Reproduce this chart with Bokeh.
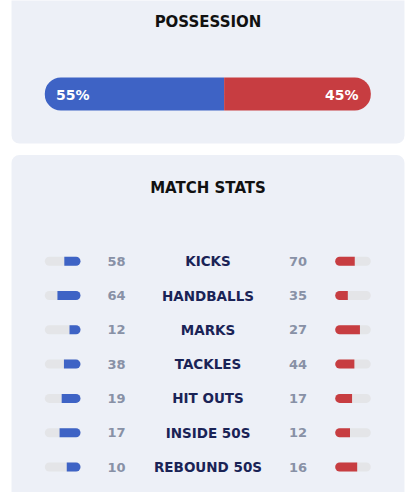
from bokeh.plotting import figure
from bokeh.models import ColumnDataSource, Range1d
from bokeh.core.properties import value
from bokeh.embed import file_html
from bokeh.resources import INLINE

# ---- data ----
possession_home = 55
possession_away = 45
categories = ["KICKS", "HANDBALLS", "MARKS", "TACKLES", "HIT OUTS", "INSIDE 50S", "REBOUND 50S"]
home_values = [58, 64, 12, 38, 19, 17, 10]
away_values = [70, 35, 27, 44, 17, 12, 16]

# ---- style ----
BLUE = "#3e63c5"
RED = "#c73d41"
TRACK = "#e4e5e8"
PANEL = "#edf0f7"
NAVY = "#1a2356"
GREY = "#8891a6"
FONT = value("DejaVu Sans")

W, H = 406, 492
p = figure(width=W, height=H, output_backend="svg", toolbar_location=None,
           x_range=Range1d(0, W), y_range=Range1d(H, 0),
           min_border=0, outline_line_color=None,
           background_fill_color="white", border_fill_color="white")
p.axis.visible = False
p.grid.visible = False

# panels
p.quad(left=[11], right=[404], top=[-20], bottom=[143], fill_color=PANEL,
       line_color=None, border_radius=8)
p.quad(left=[11], right=[404], top=[154.5], bottom=[560], fill_color=PANEL,
       line_color=None, border_radius=8)

# titles
p.text(x=[207.5], y=[21.5], text=["POSSESSION"], text_font=FONT, text_font_style="bold",
       text_font_size="15px", text_color="#111111", text_align="center", text_baseline="middle")
p.text(x=[207.5], y=[187], text=["MATCH STATS"], text_font=FONT, text_font_style="bold",
       text_font_size="15px", text_color="#111111", text_align="center", text_baseline="middle")

# possession bar
bar_l, bar_r = 44.3, 370.3
split = bar_l + (bar_r - bar_l) * possession_home / (possession_home + possession_away)
p.hbar(y=[93.5], left=[bar_l], right=[split], height=33, fill_color=BLUE, line_color=None,
       border_radius=(16, 0, 0, 16))
p.hbar(y=[93.5], left=[split], right=[bar_r], height=33, fill_color=RED, line_color=None,
       border_radius=(0, 16, 16, 0))
p.text(x=[55.5], y=[94], text=[f"{possession_home}%"], text_font=FONT, text_font_style="bold",
       text_font_size="14px", text_color="white", text_align="left", text_baseline="middle")
p.text(x=[358], y=[94], text=[f"{possession_away}%"], text_font=FONT, text_font_style="bold",
       text_font_size="14px", text_color="white", text_align="right", text_baseline="middle")

# match stats rows
y0, dy = 260.7, 34.3
ys = [y0 + i * dy for i in range(len(categories))]
lt_l, lt_r = 44.3, 80.0
rt_l, rt_r = 334.7, 370.3
tw = lt_r - lt_l
home_frac = [h / (h + a) for h, a in zip(home_values, away_values)]
away_frac = [a / (h + a) for h, a in zip(home_values, away_values)]

src = ColumnDataSource(dict(
    y=ys, cat=categories,
    home=[str(v) for v in home_values], away=[str(v) for v in away_values],
    hl=[lt_r - f * tw for f in home_frac], hr=[lt_r] * len(ys),
    al=[rt_l] * len(ys), ar=[rt_l + f * tw for f in away_frac],
    ltl=[lt_l] * len(ys), ltr=[lt_r] * len(ys),
    rtl=[rt_l] * len(ys), rtr=[rt_r] * len(ys),
))

p.hbar(y="y", left="ltl", right="ltr", height=9, source=src, fill_color=TRACK,
       line_color=None, border_radius=5)
p.hbar(y="y", left="rtl", right="rtr", height=9, source=src, fill_color=TRACK,
       line_color=None, border_radius=5)
p.hbar(y="y", left="hl", right="hr", height=9, source=src, fill_color=BLUE,
       line_color=None, border_radius=(0, 5, 5, 0))
p.hbar(y="y", left="al", right="ar", height=9, source=src, fill_color=RED,
       line_color=None, border_radius=(5, 0, 0, 5))

p.text(x=116, y="y", text="home", source=src, text_font=FONT, text_font_style="bold",
       text_font_size="13px", text_color=GREY, text_align="center", text_baseline="middle")
p.text(x=297.5, y="y", text="away", source=src, text_font=FONT, text_font_style="bold",
       text_font_size="13px", text_color=GREY, text_align="center", text_baseline="middle")
p.text(x=207.5, y="y", text="cat", source=src, text_font=FONT, text_font_style="bold",
       text_font_size="13.5px", text_color=NAVY, text_align="center", text_baseline="middle")

open("out.html", "w").write(file_html(p, INLINE))
